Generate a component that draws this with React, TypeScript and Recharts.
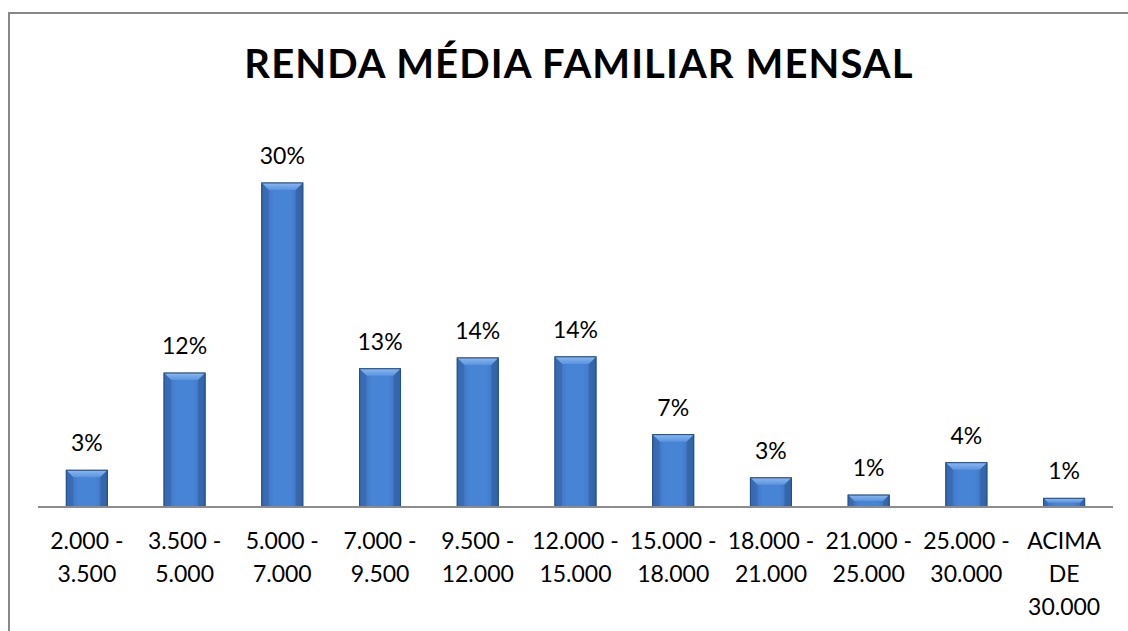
import { BarChart, Bar, XAxis, YAxis, LabelList } from "recharts";

const categories = [
  "2.000 -\n3.500",
  "3.500 -\n5.000",
  "5.000 -\n7.000",
  "7.000 -\n9.500",
  "9.500 -\n12.000",
  "12.000 -\n15.000",
  "15.000 -\n18.000",
  "18.000 -\n21.000",
  "21.000 -\n25.000",
  "25.000 -\n30.000",
  "ACIMA\nDE\n30.000",
];

const shares = [3.4, 12.4, 30, 12.8, 13.8, 13.9, 6.7, 2.7, 1.1, 4.1, 0.8];

const data = categories.map((faixa, i) => ({ faixa, share: shares[i] }));

const FONT = "Lato, 'Open Sans', 'Liberation Sans', sans-serif";

// bevelled blue bar, like the Excel preset
const BevelBar = (props: any) => {
  const { x, y, width, height } = props;
  if (!height || height <= 0) return null;
  const b = Math.min(7, height / 2);
  return (
    <g>
      <rect x={x} y={y} width={width} height={height} fill="url(#barBody)" stroke="#2a558f" strokeWidth={1} />
      <polygon
        points={`${x},${y} ${x + width},${y} ${x + width - b},${y + b} ${x + b},${y + b}`}
        fill="url(#barTop)"
      />
      <polygon
        points={`${x},${y} ${x + b},${y + b} ${x + b},${y + height} ${x},${y + height}`}
        fill="#3566ab"
        opacity={0.6}
      />
      <polygon
        points={`${x + width},${y} ${x + width - b},${y + b} ${x + width - b},${y + height} ${x + width},${y + height}`}
        fill="#2f5d9c"
        opacity={0.6}
      />
      <rect x={x} y={y} width={width} height={height} fill="none" stroke="#24508c" strokeWidth={1} />
    </g>
  );
};

const CategoryTick = (props: any) => {
  const { x, y, payload } = props;
  const lines = String(payload.value).split("\n");
  return (
    <text x={x} y={y + 34} textAnchor="middle" fill="#000" fontSize={23} fontFamily={FONT}>
      {lines.map((line, i) => (
        <tspan key={i} x={x} dy={i === 0 ? 0 : 33}>
          {line}
        </tspan>
      ))}
    </text>
  );
};

const App = () => {
  return (
    <div
      style={{
        position: "absolute",
        left: 0,
        top: 0,
        width: 1128,
        height: 631,
        overflow: "hidden",
        background: "#fff",
      }}
    >
      {/* cropped chart frame */}
      <div
        style={{
          position: "absolute",
          left: 8,
          top: 12,
          width: 1200,
          height: 700,
          borderLeft: "2px solid #878787",
          borderTop: "2px solid #878787",
        }}
      />

      <div
        style={{
          position: "absolute",
          left: 0,
          top: 39,
          width: 1128,
          textAlign: "center",
          fontFamily: FONT,
          fontWeight: 700,
          fontSize: 40,
          letterSpacing: 1.1,
          color: "#000",
          paddingLeft: 30,
          boxSizing: "border-box",
        }}
      >
        RENDA MÉDIA FAMILIAR MENSAL
      </div>

      <div style={{ position: "absolute", left: 0, top: 0 }}>
        <BarChart
          width={1128}
          height={631}
          data={data}
          margin={{ top: 129, right: 15, bottom: 24, left: 38 }}
          barCategoryGap="29%"
        >
          <defs>
            <linearGradient id="barBody" x1="0" y1="0" x2="1" y2="0">
              <stop offset="0%" stopColor="#3a6cb5" />
              <stop offset="30%" stopColor="#4884d6" />
              <stop offset="70%" stopColor="#4884d6" />
              <stop offset="100%" stopColor="#3a6cb5" />
            </linearGradient>
            <linearGradient id="barTop" x1="0" y1="0" x2="0" y2="1">
              <stop offset="0%" stopColor="#8ab8f2" />
              <stop offset="100%" stopColor="#5a93df" />
            </linearGradient>
          </defs>
          <XAxis
            dataKey="faixa"
            height={100}
            interval={0}
            tickLine={false}
            axisLine={{ stroke: "#8c8c8c", strokeWidth: 2 }}
            tick={<CategoryTick />}
          />
          <YAxis hide domain={[0, 35]} />
          <Bar dataKey="share" shape={<BevelBar />} isAnimationActive={false}>
            <LabelList
              dataKey="share"
              position="top"
              offset={19}
              formatter={(v: any) => `${Math.round(Number(v))}%`}
              style={{ fontSize: 23, fontFamily: FONT, fill: "#000" }}
            />
          </Bar>
        </BarChart>
      </div>
    </div>
  );
};

export default App;
